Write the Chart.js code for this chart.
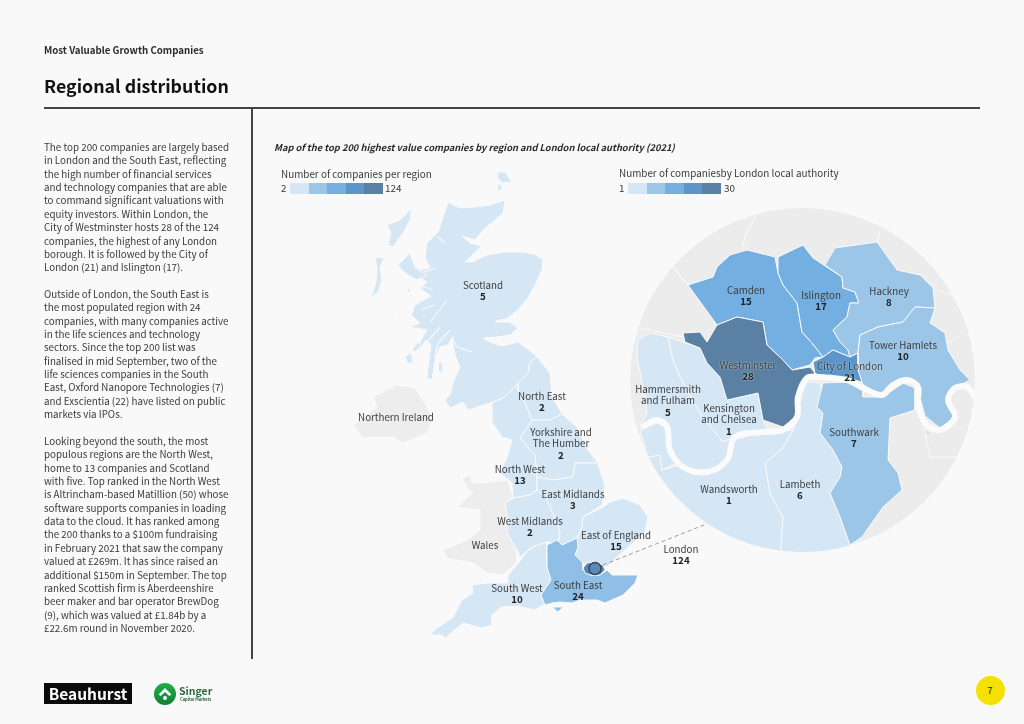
<!DOCTYPE html>
<html lang="en"><head><meta charset="utf-8"><title>Regional distribution</title>
<script src="https://cdn.jsdelivr.net/npm/chart.js@4/dist/chart.umd.min.js"></script>
<style>
html,body{margin:0;padding:0;background:#f9f9f9;}
body{width:1024px;height:724px;position:relative;overflow:hidden;font-family:"Noto Sans CJK SC","Noto Sans",sans-serif;color:#333;}
.a{position:absolute;white-space:nowrap;}
#ukWrap{position:absolute;left:0;top:0;width:1024px;height:724px;}
#ldnWrap{position:absolute;left:630px;top:208px;width:345px;height:344px;border-radius:50%;overflow:hidden;background:#ececec;}
.sw{position:absolute;top:183px;height:11px;width:18.5px;}
</style></head><body>
<div id="ukWrap"><canvas id="uk" width="1024" height="724"></canvas></div>
<div id="ldnWrap"><canvas id="ldn" width="345" height="344"></canvas></div>

<div class="a" style="left:44px;top:42px;font-size:9.7px;line-height:16px;font-weight:700;color:#2b2b2b">Most Valuable Growth Companies</div>
<div class="a" style="left:44px;top:68px;font-size:17.8px;line-height:34px;font-weight:700;color:#111">Regional distribution</div>
<div class="a" style="left:44px;top:107px;width:936px;height:2px;background:#444"></div>
<div class="a" style="left:251px;top:108px;width:2px;height:551px;background:#444"></div>
<div class="a" id="body" style="left:44px;top:141px;font-size:9.8px;line-height:13.36px;color:#3a3a3a"></div>
<div class="a" style="left:274px;top:139px;font-size:9.3px;line-height:16px;font-weight:700;font-style:italic;color:#2b2b2b">Map of the top 200 highest value companies by region and London local authority (2021)</div>

<div class="a" style="left:281px;top:166px;font-size:9.9px;line-height:16px;color:#3a3a3a">Number of companies per region</div>
<div class="a" style="left:281px;top:181px;font-size:9.9px;line-height:15px;color:#3a3a3a">2</div>
<div class="a" style="left:385px;top:181px;font-size:9.9px;line-height:15px;color:#3a3a3a">124</div>
<div class="a" style="left:619px;top:165px;font-size:9.9px;line-height:16px;color:#3a3a3a">Number of companiesby London local authority</div>
<div class="a" style="left:619px;top:181px;font-size:9.9px;line-height:15px;color:#3a3a3a">1</div>
<div class="a" style="left:724px;top:181px;font-size:9.9px;line-height:15px;color:#3a3a3a">30</div>
<div id="legend1"></div><div id="legend2"></div>

<div class="a" style="left:44px;top:683px;width:88px;height:21px;background:#0b0b0b;color:#fff;font:700 15.500px/21px 'Noto Sans CJK SC',sans-serif;text-align:center">Beauhurst</div>
<svg class="a" style="left:153px;top:681.500px" width="24" height="24" viewBox="0 0 24 24"><defs><linearGradient id="g" x1="0" y1="0" x2="0" y2="1"><stop offset="0" stop-color="#1fae4b"/><stop offset="1" stop-color="#0f7f36"/></linearGradient></defs><circle cx="12" cy="12" r="11" fill="url(#g)"/><path d="M5.5 12.5 12 6l6.5 6.500-2.200 1.600L12 10l-4.300 4.100z" fill="#fff"/><circle cx="12" cy="16" r="2" fill="#fff"/></svg>
<div class="a" style="left:179px;top:684px;font-size:10.5px;line-height:14px;font-weight:700;color:#2d6b3a">Singer</div>
<div class="a" style="left:180px;top:696px;font-size:4.1px;line-height:6px;font-weight:700;color:#2d6b3a">Capital Markets</div>
<div class="a" style="left:975.500px;top:675.500px;width:29px;height:29px;border-radius:50%;background:#f4e100;color:#222;font-size:9.500px;line-height:29px;text-align:center">7</div>

<script>
// ---- Values ----
const regionNames  = ["Scotland","North East","Yorkshire and\nThe Humber","North West","East Midlands","West Midlands","East of England","South West","South East","London"];
const regionCounts = [5,2,2,13,3,2,15,10,24,124];
const noDataNames  = ["Northern Ireland","Wales"];
const boroughNames  = ["Camden","Islington","Hackney","Tower Hamlets","Westminster","City of London","Hammersmith\nand Fulham","Kensington\nand Chelsea","Southwark","Wandsworth","Lambeth"];
const boroughCounts = [15,17,8,10,28,21,5,1,7,1,6];
const bodyLines = [
"The top 200 companies are largely based","in London and the South East, reflecting","the high number of financial services","and technology companies that are able","to command significant valuations with","equity investors. Within London, the","City of Westminster hosts 28 of the 124","companies, the highest of any London","borough. It is followed by the City of","London (21) and Islington (17).","",
"Outside of London, the South East is","the most populated region with 24","companies, with many companies active","in the life sciences and technology","sectors. Since the top 200 list was","finalised in mid September, two of the","life sciences companies in the South","East, Oxford Nanopore Technologies (7)","and Exscientia (22) have listed on public","markets via IPOs.","",
"Looking beyond the south, the most","populous regions are the North West,","home to 13 companies and Scotland","with five. Top ranked in the North West","is Altrincham-based Matillion (50) whose","software supports companies in loading","data to the cloud. It has ranked among","the 200 thanks to a $100m fundraising","in February 2021 that saw the company","valued at £269m. It has since raised an","additional $150m in September. The top","ranked Scottish firm is Aberdeenshire","beer maker and bar operator BrewDog","(9), which was valued at £1.84b by a","£22.6m round in November 2020."];

// Colour ramps and the class breaks of each legend
const ramp = ["#d5e6f5","#9bc6e8","#73afe0","#5a96c9","#5a80a4"];
const regionRamp = ["#d5e6f5","#8fbee6","#73afe0","#5a96c9","#5c86ad"];
const regionBreaks  = [20,50,80,100];
const boroughBreaks = [6,12,18,24];
const noDataColour = "#ededed";
const paper = "#f9f9f9";

// Outlines (map units)
const scotland = [[448,202],[460,208],[475,207],[490,205],[505,200],[503,213],[495,220],[483,230],[475,240],[462,236],[470,243],[482,246],[472,255],[465,262],[472,262],[487,255],[505,252],[520,252],[535,254],[543,260],[542,270],[535,285],[528,298],[518,310],[505,320],[495,322],[510,322],[518,328],[510,335],[497,337],[483,338],[492,343],[503,346],[518,342],[533,353],[537,357],[530,362],[528,373],[518,383],[505,397],[490,403],[468,410],[463,402],[450,408],[445,400],[450,395],[453,383],[460,367],[455,355],[453,345],[452,337],[448,345],[440,347],[435,360],[432,380],[427,378],[429,360],[431,345],[426,340],[418,352],[420,342],[427,330],[410,327],[420,323],[411,315],[415,305],[431,296],[420,288],[427,282],[420,278],[418,270],[430,268],[425,258],[427,243],[438,232],[443,217]];
const scotlandIsles = [
 [[498,172],[505,172],[512,182],[502,183],[497,177]],
 [[497,185],[502,184],[501,191],[498,190]],
 [[412,208],[410,220],[403,233],[393,247],[388,245],[391,233],[387,225],[400,220]],
 [[375,257],[384,258],[380,268],[382,280],[378,292],[371,298],[376,282],[377,268]],
 [[398,265],[410,253],[415,267],[427,275],[417,280],[408,275],[402,270]],
 [[407,288],[411,290],[408,293]],
 [[391,317],[395,316],[393,319]],
 [[405,357],[411,352],[413,362],[408,364]],
 [[412,350],[418,342],[421,344],[416,352]],
 [[438,362],[442,363],[443,372],[439,372]]
];
const sea = [
 [[452,337],[457,347],[472,352]],
 [[450,330],[438,343],[435,357]],
 [[447,300],[437,313],[430,322]],
 [[435,305],[420,310]],
 [[436,268],[424,272]],
 [[433,290],[422,286]],
 [[445,243],[437,236]],
 [[440,327],[426,343]],
 [[496,321],[505,319],[512,318]]
];
const northEast = [[537,357],[550,373],[552,397],[562,414],[550,420],[532,420],[525,403],[518,390],[518,383],[528,373],[530,362]];
const yorkshire = [[532,420],[550,420],[562,414],[577,427],[588,450],[598,463],[575,463],[573,477],[553,480],[537,477],[535,455],[520,438]];
const northWest = [[505,397],[518,383],[518,390],[525,403],[532,420],[520,438],[535,455],[537,477],[537,490],[530,495],[513,498],[512,483],[500,473],[508,455],[512,440],[502,437],[492,422],[492,403]];
const eastMidlands = [[537,477],[553,480],[573,477],[575,463],[598,463],[605,487],[602,505],[583,517],[582,527],[577,538],[562,545],[558,543],[560,533],[557,523],[547,500],[537,490]];
const westMidlands = [[513,498],[530,495],[537,490],[547,500],[557,523],[560,533],[558,543],[547,542],[532,547],[520,557],[517,550],[507,533],[508,520],[505,503]];
const eastEngland = [[603,507],[610,502],[623,498],[640,505],[648,517],[645,532],[633,543],[617,557],[607,567],[603,565],[595,562],[587,563],[583,565],[575,555],[578,547],[577,538],[582,527],[583,517]];
const southWest = [[547,542],[547,567],[551,580],[541,595],[545,604],[535,610],[517,606],[502,607],[492,615],[492,625],[482,628],[463,623],[445,638],[442,635],[430,635],[437,628],[453,617],[462,600],[473,593],[472,585],[487,583],[508,583],[508,575],[515,567],[527,552],[533,547]];
const southEast = [[547,545],[557,540],[562,545],[577,538],[578,547],[575,555],[583,563],[583,570],[590,575],[600,575],[607,570],[612,575],[623,575],[638,575],[635,583],[623,595],[605,603],[597,600],[580,600],[572,603],[560,602],[552,603],[545,605],[541,595],[551,580],[547,567]];
const isleOfWight = [[552,607],[563,607],[558,612]];
const london = [[583,568],[587,563],[595,562],[603,565],[605,570],[600,575],[590,575],[585,573]];
const northernIreland = [[373,397],[397,385],[415,388],[427,407],[433,420],[427,433],[403,443],[393,437],[363,438],[353,425],[365,417],[377,407]];
const wales = [[462,478],[470,475],[473,483],[490,482],[508,480],[513,497],[505,503],[508,520],[507,533],[517,550],[517,562],[503,575],[487,573],[473,563],[447,558],[443,550],[467,540],[480,530],[480,510],[457,507],[473,493],[467,488]];
const leaderLine = [[603,565],[714,521]];
const londonMarker = [[595,568.5]];

const camden = [[688,285],[713,277],[717,267],[730,255],[747,250],[775,257],[778,273],[783,285],[797,303],[802,332],[812,343],[823,357],[815,358],[810,365],[792,370],[783,360],[767,345],[763,322],[737,317],[717,325]];
const islington = [[778,257],[803,245],[813,258],[842,277],[843,288],[855,292],[859,303],[850,303],[847,317],[833,330],[840,342],[848,350],[850,357],[833,350],[823,357],[812,343],[802,332],[797,303],[783,285],[778,273]];
const hackney = [[825,265],[835,248],[877,242],[897,270],[920,275],[933,288],[935,308],[915,307],[903,322],[878,327],[860,335],[858,353],[850,357],[848,350],[840,342],[833,330],[847,317],[850,303],[859,303],[855,292],[843,288],[842,277]];
const towerHamlets = [[860,335],[878,327],[903,322],[915,307],[935,308],[930,323],[945,333],[948,350],[960,370],[970,380],[955,388],[948,400],[955,417],[940,428],[925,416],[917,387],[905,379],[887,393],[873,393],[862,383],[858,370],[858,353]];
const cityOfLondon = [[813,362],[823,357],[833,350],[850,357],[858,353],[858,370],[862,382],[847,378],[820,377],[815,373]];
const westminster = [[683,333],[700,332],[707,342],[717,325],[737,317],[763,322],[767,345],[783,360],[792,370],[810,367],[815,373],[805,380],[798,397],[795,417],[783,427],[763,420],[758,393],[727,400],[720,377],[707,363],[700,348],[685,342]];
const hammersmith = [[638,340],[650,333],[668,337],[673,360],[680,377],[700,413],[723,442],[733,438],[727,463],[707,472],[683,467],[670,450],[667,427],[657,420],[640,427],[647,413],[645,397],[637,357]];
const kensington = [[668,337],[683,342],[700,348],[707,363],[720,377],[727,400],[758,393],[763,420],[767,430],[733,437],[723,442],[700,413],[680,377],[673,360]];
const southwark = [[820,395],[823,383],[847,382],[863,388],[863,397],[883,397],[903,383],[915,388],[915,410],[890,418],[888,460],[898,473],[902,490],[883,507],[862,537],[850,545],[840,517],[830,493],[840,477],[842,467],[833,450],[820,433],[823,413],[817,407]];
const wandsworth = [[620,480],[648,457],[660,455],[662,470],[680,465],[707,472],[727,463],[733,440],[763,432],[793,430],[783,448],[765,463],[770,493],[775,503],[783,517],[780,560],[700,560]];
const lambeth = [[807,382],[820,382],[822,397],[817,407],[823,413],[820,433],[833,450],[842,467],[840,477],[830,493],[840,517],[850,545],[850,560],[780,560],[783,517],[775,503],[770,493],[765,463],[783,448],[793,430],[797,417],[802,393]];
const richmondBend = [[640,430],[657,423],[667,427],[670,450],[677,463],[662,470],[660,455],[648,457]];
const smallPatch = [[923,428],[932,433],[928,438]];
const thames = [[975,397],[967,387],[955,388],[948,400],[955,417],[940,430],[925,423],[918,403],[918,387],[907,380],[893,385],[882,395],[863,388],[847,380],[820,377],[807,378],[798,397],[797,417],[783,430],[763,432],[735,437],[727,460],[707,472],[683,467],[670,450],[667,427],[657,420],[642,427]];
const greyBoundaries = [
 [[755,217],[745,237],[742,250]],[[880,232],[877,242]],[[673,267],[688,285]],
 [[640,328],[683,337]],[[935,290],[953,295]],[[958,337],[948,343]],
 [[925,433],[930,457],[957,457]],[[888,418],[888,460]]
];

// Label anchors (map units): centre of first line
const regionAnchors = [[483,285],[542,396],[561,432],[520,469],[573,494],[530,521],[616,535],[517,588],[578,585],[681,549]];
const noDataAnchors = [[396,417],[485,545]];
const boroughAnchors = [[746,290],[821,295],[889,291],[903,345],[748,365],[850,366],[668,389],[729,408],[854,432],[729,489],[800,484]];
const haloNames = ["Westminster","City of London"];

// ---- Page text and legends ----
document.getElementById('body').innerHTML = bodyLines.map(l=>l||'&nbsp;').join('<br>');
function legend(id,left){
  document.getElementById(id).innerHTML = ramp.map((c,i)=>`<div class="sw" style="left:${left+i*18.55}px;background:${c}"></div>`).join('');
}
legend('legend1',290); legend('legend2',628);

// ---- Helpers ----
const colourFor=(v,breaks,r)=>{let i=breaks.findIndex(b=>v<=b);return r[i<0?r.length-1:i];};
const closed=p=>[...p,p[0]].map(([x,y])=>({x,y}));
const poly=(p,fill)=>({data:closed(p),showLine:true,fill:'shape',backgroundColor:fill,borderColor:paper,borderWidth:1,pointRadius:0,tension:0});
const stroke=(p,c,w,extra)=>Object.assign({data:p.map(([x,y])=>({x,y})),showLine:true,fill:false,borderColor:c,borderWidth:w,pointRadius:0,tension:0},extra||{});
const FONT='"Noto Sans CJK SC","Noto Sans",sans-serif';

function labelPlugin(names,counts,anchors){
  return {id:'labels',afterDatasetsDraw(chart){
    const {ctx,scales:{x,y}}=chart; ctx.save(); ctx.textAlign='center'; ctx.textBaseline='middle';
    names.forEach((name,i)=>{
      const px=x.getPixelForValue(anchors[i][0]), py=y.getPixelForValue(anchors[i][1]);
      const step=Math.abs(y.getPixelForValue(1)-y.getPixelForValue(0))*11;
      const lines=name.split('\n');
      const halo=haloNames.includes(name);
      ctx.shadowColor=halo?'rgba(255,255,255,.75)':'transparent'; ctx.shadowBlur=halo?2:0;
      ctx.font='9.75px '+FONT; ctx.fillStyle='#3d3d3d';
      lines.forEach((l,k)=>{ctx.fillText(l,px,py+k*step);});
      ctx.font='700 9.75px '+FONT; ctx.fillStyle='#222';
      if(counts) ctx.fillText(String(counts[i]),px,py+lines.length*step+(lines.length>1?1:0));
    });
    ctx.restore();
  }};
}
function makeChart(id,datasets,xmin,xmax,ymin,ymax,plugins){
  datasets.reverse();
  return new Chart(document.getElementById(id),{type:'scatter',data:{datasets},plugins,
    options:{responsive:false,animation:false,devicePixelRatio:1,layout:{padding:0,autoPadding:false},
      plugins:{legend:{display:false},tooltip:{enabled:false},title:{display:false}},
      scales:{x:{type:'linear',min:xmin,max:xmax,display:false},y:{type:'linear',min:ymin,max:ymax,reverse:true,display:false}}}});
}

// ---- UK map ----
const rc=i=>colourFor(regionCounts[i],regionBreaks,regionRamp);
const ukSets=[
  poly(northernIreland,noDataColour),poly(wales,noDataColour),
  poly(scotland,rc(0)),...scotlandIsles.map(p=>poly(p,rc(0))),
  ...sea.map(p=>stroke(p,paper,1.2)),
  poly(northEast,rc(1)),poly(yorkshire,rc(2)),poly(northWest,rc(3)),poly(eastMidlands,rc(4)),poly(westMidlands,rc(5)),
  poly(eastEngland,rc(6)),poly(southWest,rc(7)),poly(southEast,rc(8)),poly(isleOfWight,rc(8)),
  poly(london,rc(9)),
  stroke(leaderLine,"#9a9a9a",1,{borderDash:[4,3]}),
  {data:londonMarker.map(([x,y])=>({x,y})),pointRadius:6,pointBackgroundColor:"#5a8bb5",pointBorderColor:"#2f4a60",pointBorderWidth:1.5,showLine:false}
];
makeChart('uk',ukSets,0,1024,0,724,[labelPlugin(regionNames,regionCounts,regionAnchors),{id:'noData',afterDatasetsDraw(chart){
  const {ctx,scales:{x,y}}=chart; ctx.save(); ctx.textAlign='center'; ctx.textBaseline='middle';
  ctx.font='9.75px '+FONT; ctx.fillStyle='#3d3d3d';
  noDataNames.forEach((n,i)=>ctx.fillText(n,x.getPixelForValue(noDataAnchors[i][0]),y.getPixelForValue(noDataAnchors[i][1])));
  ctx.restore();}}]);

// ---- London map ----
const bc=i=>colourFor(boroughCounts[i],boroughBreaks,ramp);
const ldnSets=[
  ...greyBoundaries.map(p=>stroke(p,paper,1.2)),
  poly(wandsworth,bc(9)),poly(lambeth,bc(10)),poly(richmondBend,bc(9)),poly(smallPatch,bc(9)),
  poly(hammersmith,bc(6)),poly(kensington,bc(7)),
  poly(camden,bc(0)),poly(islington,bc(1)),poly(hackney,bc(2)),poly(towerHamlets,bc(3)),
  poly(southwark,bc(8)),poly(westminster,bc(4)),poly(cityOfLondon,bc(5)),
  stroke(thames,"#fbfbfb",6,{tension:0.35})
];
makeChart('ldn',ldnSets,630,975,208,552,[labelPlugin(boroughNames,boroughCounts,boroughAnchors)]);
</script>
</body></html>
